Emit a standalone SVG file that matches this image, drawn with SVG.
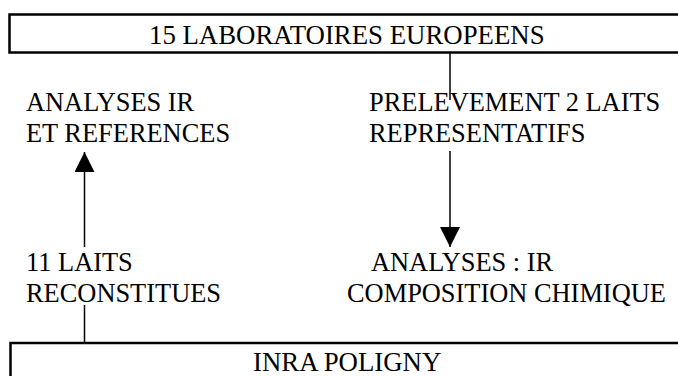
<svg xmlns="http://www.w3.org/2000/svg" width="678" height="376" viewBox="0 0 678 376">
<style>
text{font-family:"Liberation Serif","Times New Roman",serif;font-size:26.4px;fill:#000}
.big{font-size:26.8px}
.box{fill:#fff;stroke:#000;stroke-width:2.5}
.ln{stroke:#000;stroke-width:1.5;fill:none}
</style>
<defs>
<marker id="ah" viewBox="0 0 20 20" refX="20" refY="10" markerWidth="20" markerHeight="20" markerUnits="userSpaceOnUse" orient="auto">
<path d="M0,0 L20,10 L0,20 Z" fill="#000"/>
</marker>
</defs>
<rect width="678" height="376" fill="#fff"/>
<g id="labos">
<rect class="box" x="9.5" y="14.5" width="680" height="38"/>
<text class="big" x="149" y="44">15 LABORATOIRES EUROPEENS</text>
</g>
<g id="inra">
<rect class="box" x="10.5" y="343" width="680" height="50"/>
<text class="big" x="253" y="371">INRA POLIGNY</text>
</g>
<g id="analyses-ir">
<text x="26" y="111">ANALYSES IR</text>
<text x="26" y="142">ET REFERENCES</text>
</g>
<g id="prelevement">
<text x="369" y="111">PRELEVEMENT 2 LAITS</text>
<text x="369" y="142">REPRESENTATIFS</text>
</g>
<g id="laits">
<text x="26" y="271">11 LAITS</text>
<text x="26" y="302">RECONSTITUES</text>
</g>
<g id="analyses-chimie">
<text x="371" y="271">ANALYSES : IR</text>
<text x="347" y="302">COMPOSITION CHIMIQUE</text>
</g>
<g id="connectors">
<line class="ln" x1="450" y1="53" x2="450" y2="100"/>
<line class="ln" x1="450" y1="151" x2="450" y2="247" marker-end="url(#ah)"/>
<line class="ln" x1="84.5" y1="343" x2="84.5" y2="305"/>
<line class="ln" x1="84.5" y1="247" x2="84.5" y2="152" marker-end="url(#ah)"/>
</g>
</svg>
